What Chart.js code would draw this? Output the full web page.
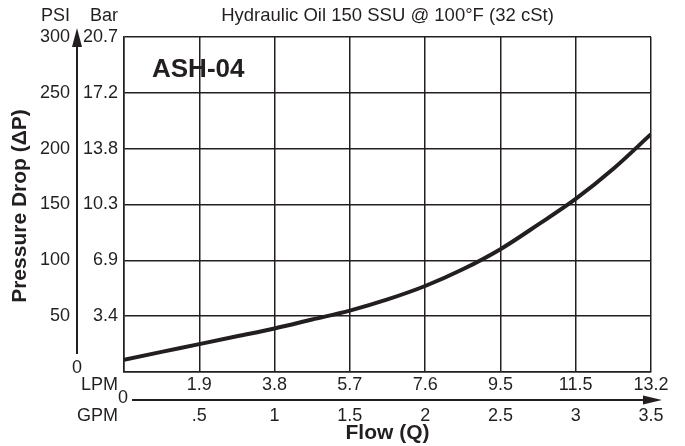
<!DOCTYPE html>
<html>
<head>
<meta charset="utf-8">
<script src="https://cdn.jsdelivr.net/npm/chart.js@4/dist/chart.umd.min.js"></script>
<style>
  html, body { margin: 0; padding: 0; background: #fff; }
  #wrap { width: 685px; height: 446px; }
</style>
</head>
<body>
<div id="wrap"><canvas id="chart" width="685" height="446"></canvas></div>
<script>
// ---------------------------
// Data
// ---------------------------
const flowGpm = [0, 0.25, 0.5, 0.75, 1.0, 1.25, 1.5, 1.75, 2.0, 2.25, 2.5, 2.75, 3.0, 3.25, 3.5];
const dropPsi = [11, 18, 25, 32, 39, 47, 55, 65, 77, 92, 110, 132, 155, 182, 213];

const psiTicks = [0, 50, 100, 150, 200, 250, 300];
const barLabels = ["", "3.4", "6.9", "10.3", "13.8", "17.2", "20.7"];
const gpmTicks = [0.5, 1, 1.5, 2, 2.5, 3, 3.5];
const gpmLabels = [".5", "1", "1.5", "2", "2.5", "3", "3.5"];
const lpmLabels = ["1.9", "3.8", "5.7", "7.6", "9.5", "11.5", "13.2"];

const titleText = "Hydraulic Oil 150 SSU @ 100°F (32 cSt)";
const modelText = "ASH-04";

const INK = "#231f20";
const FONT = "'Liberation Sans', Arial, sans-serif";

// ---------------------------
// Labels, arrows and titles around the grid
// ---------------------------
function arrowHead(ctx, x, y, dir){
  ctx.beginPath();
  if(dir === "up"){
    ctx.moveTo(x, y);
    ctx.lineTo(x - 5, y + 19);
    ctx.lineTo(x + 5, y + 19);
  }else{
    ctx.moveTo(x, y);
    ctx.lineTo(x - 19, y - 4.5);
    ctx.lineTo(x - 19, y + 4.5);
  }
  ctx.closePath();
  ctx.fill();
}

const decor = {
  id: "decor",
  afterDraw(chart){
    const ctx = chart.ctx;
    const xs = chart.scales.x;
    const ys = chart.scales.y;
    const area = chart.chartArea;
    ctx.save();
    ctx.fillStyle = INK;
    ctx.strokeStyle = INK;
    ctx.textBaseline = "middle";

    // header row: unit names sit over their tick columns
    ctx.font = `18px ${FONT}`;
    ctx.textAlign = "right";
    ctx.fillText("PSI", 70, 16);
    ctx.fillText("Bar", 118, 16);
    ctx.font = `18.5px ${FONT}`;
    ctx.textAlign = "center";
    ctx.fillText(titleText, (area.left + area.right) / 2, 16);

    // left tick columns
    ctx.font = `18px ${FONT}`;
    psiTicks.forEach((v, i)=>{
      const y = ys.getPixelForValue(v);
      if(v === 0){
        ctx.textAlign = "center";
        ctx.fillText("0", 77, y - 4);
        return;
      }
      ctx.textAlign = "right";
      ctx.fillText(String(v), 70, y);
      ctx.fillText(barLabels[i], 118, y);
    });

    // vertical arrow
    ctx.lineWidth = 2;
    ctx.beginPath();
    ctx.moveTo(77, 354);
    ctx.lineTo(77, 42);
    ctx.stroke();
    arrowHead(ctx, 77, 28, "up");

    // LPM row
    ctx.textAlign = "right";
    ctx.fillText("LPM", 118, 385);
    ctx.textAlign = "center";
    gpmTicks.forEach((v, i)=>{
      ctx.fillText(lpmLabels[i], xs.getPixelForValue(v), 385);
    });

    // horizontal arrow
    ctx.textAlign = "center";
    ctx.fillText("0", 123, 398);
    ctx.beginPath();
    ctx.moveTo(132, 400);
    ctx.lineTo(648, 400);
    ctx.stroke();
    arrowHead(ctx, 662, 400, "right");

    // GPM row
    ctx.textAlign = "right";
    ctx.fillText("GPM", 118, 416);
    ctx.textAlign = "center";
    gpmTicks.forEach((v, i)=>{
      ctx.fillText(gpmLabels[i], xs.getPixelForValue(v), 416);
    });

    // axis titles
    ctx.font = `bold 21px ${FONT}`;
    ctx.fillText("Flow (Q)", (area.left + area.right) / 2, 433);
    ctx.save();
    ctx.translate(20, 206);
    ctx.rotate(-Math.PI / 2);
    ctx.fillText("Pressure Drop (\u0394P)", 0, 0);
    ctx.restore();

    // model tag inside the grid
    ctx.font = `bold 26px ${FONT}`;
    ctx.textAlign = "left";
    ctx.fillText(modelText, 152, 70);

    ctx.restore();
  }
};

// ---------------------------
// Chart
// ---------------------------
const chart = new Chart(document.getElementById("chart"), {
  type: "line",
  data: {
    datasets: [{
      data: flowGpm.map((q, i)=>({ x: q, y: dropPsi[i] })),
      borderColor: INK,
      borderWidth: 4,
      pointRadius: 0,
      cubicInterpolationMode: "monotone",
      fill: false
    }]
  },
  options: {
    responsive: false,
    animation: false,
    events: [],
    layout: { padding: { left: 124, top: 37, right: 34, bottom: 74 } },
    plugins: { legend: { display: false }, tooltip: { enabled: false } },
    scales: {
      x: {
        type: "linear", min: 0, max: 3.5,
        ticks: { display: false, stepSize: 0.5 },
        grid: { color: INK, lineWidth: 1.5, drawTicks: false },
        border: { color: INK, width: 1.5 }
      },
      y: {
        min: 0, max: 300,
        ticks: { display: false, stepSize: 50 },
        grid: { color: INK, lineWidth: 1.5, drawTicks: false },
        border: { color: INK, width: 1.5 }
      }
    }
  },
  plugins: [decor]
});
</script>
</body>
</html>
